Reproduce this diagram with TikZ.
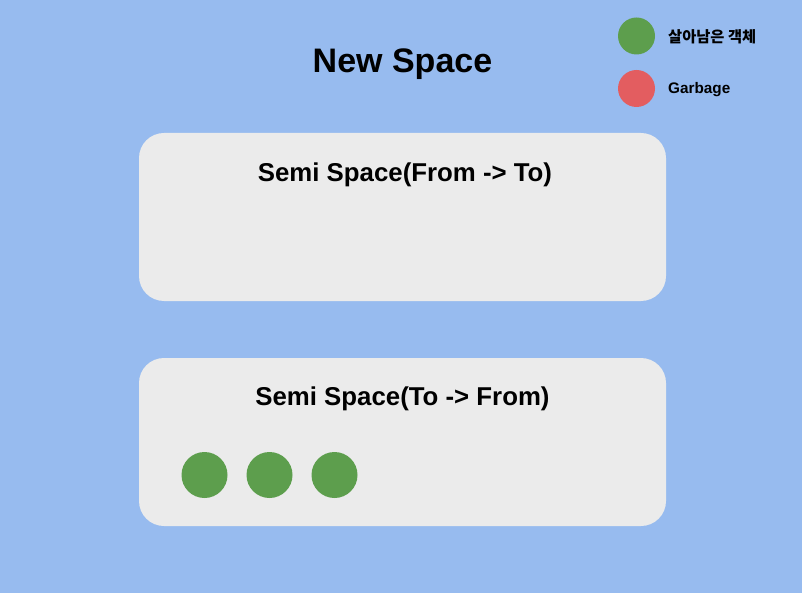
\documentclass[tikz,border=0pt]{standalone}
\usepackage{fontspec}
\setmainfont{Liberation Sans}
\newfontfamily\krfont{Noto Sans CJK KR}
\definecolor{bgblue}{HTML}{97BBEF}
\definecolor{boxgray}{HTML}{EBEBEB}
\definecolor{objgreen}{HTML}{5D9E4D}
\definecolor{garbred}{HTML}{E35D60}
\tikzset{
  space/.style={fill=boxgray, rounded corners=25pt, draw=none},
  obj/.style={circle, fill=objgreen, minimum size=46pt, inner sep=0pt},
  legdot/.style={circle, minimum size=37pt, inner sep=0pt},
  legtext/.style={anchor=west, inner sep=0pt, font=\fontsize{15.3}{18}\selectfont\bfseries},
  boxtitle/.style={anchor=base, inner sep=0pt, font=\fontsize{25.8}{30}\selectfont\bfseries}
}
\begin{document}
\begin{tikzpicture}[x=1pt,y=-1pt]
\fill[bgblue] (0,0) rectangle (802,593);
\useasboundingbox (0,0) rectangle (802,593);
\node[anchor=base, inner sep=0pt, font=\fontsize{34}{40}\selectfont\bfseries] (title) at (402.5,73) {New Space};
% legend
\node[legdot, fill=objgreen] (lg) at (636.5,36) {};
\node[legtext] (lgt) at (668,36.5) {\krfont\bfseries 살아남은 객체};
\node[legdot, fill=garbred] (lr) at (636.5,88.5) {};
\node[legtext, anchor=base west] (lrt) at (668,94) {Garbage};
% boxes
\filldraw[space] (139,133) rectangle (666,301);
\node[boxtitle] (t1) at (405,182) {Semi Space(From -> To)};
\filldraw[space] (139,358) rectangle (666,526);
\node[boxtitle] (t2) at (402.5,405.5) {Semi Space(To -> From)};
\node[obj] (o1) at (204.5,475) {};
\node[obj] (o2) at (269.5,475) {};
\node[obj] (o3) at (334.5,475) {};
\end{tikzpicture}
\end{document}
